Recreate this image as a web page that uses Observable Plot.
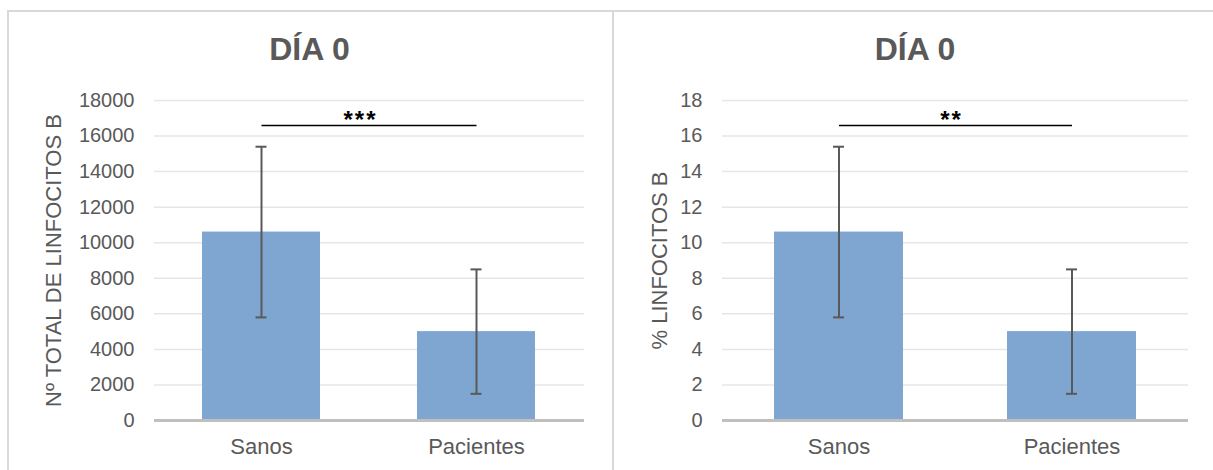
<!DOCTYPE html>
<html>
<head>
<meta charset="utf-8">
<script src="https://cdn.jsdelivr.net/npm/d3@7"></script>
<script src="https://cdn.jsdelivr.net/npm/@observablehq/plot@0.6"></script>
<style>
  html, body { margin: 0; padding: 0; background: #fff; }
  #root { position: relative; width: 1213px; height: 470px; overflow: hidden; font-family: "Liberation Sans", Arial, sans-serif; }
  .panel { position: absolute; box-sizing: border-box; border: 2px solid #d9d9d9; }
  .title { position: absolute; font-weight: bold; font-size: 32px; color: #595959; text-align: center; }
  .chart { position: absolute; top: 0; }
  .chart svg g[aria-label="text"] text { letter-spacing: 2px; }
</style>
</head>
<body>
<div id="root">
  <div class="panel" style="left:7px; top:10px; width:607px; height:600px;"></div>
  <div class="panel" style="left:612px; top:10px; width:700px; height:600px;"></div>
  <div class="title" style="left:7px; width:605px; top:31px;">DÍA 0</div>
  <div class="title" style="left:612px; width:606px; top:31px;">DÍA 0</div>
  <div class="chart" id="left" style="left:0px;"></div>
  <div class="chart" id="right" style="left:606px;"></div>
</div>
<script>
// ---- data ----
const categories = ["Sanos", "Pacientes"];

const totalMeans = [10600, 5000];
const totalLow = [5800, 1500];
const totalHigh = [15400, 8500];
const totalTicks = [0, 2000, 4000, 6000, 8000, 10000, 12000, 14000, 16000, 18000];
const totalSigY = 16600;
const totalSigLabel = "***";

const pctMeans = [10.6, 5.0];
const pctLow = [5.8, 1.5];
const pctHigh = [15.4, 8.5];
const pctTicks = [0, 2, 4, 6, 8, 10, 12, 14, 16, 18];
const pctSigY = 16.6;
const pctSigLabel = "**";

function makeChart(opts) {
  const rows = categories.map((c, i) => ({cat: c, mean: opts.means[i], lo: opts.low[i], hi: opts.high[i]}));
  const sig = [{x1: categories[0], x2: categories[1], y: opts.sigY, label: opts.sigLabel}];
  return Plot.plot({
    width: opts.width, height: 470,
    marginLeft: opts.marginLeft, marginRight: opts.marginRight, marginTop: 100, marginBottom: 50,
    style: {fontFamily: '"Liberation Sans", Arial, sans-serif', fontSize: "20px", color: "#595959", background: "transparent", overflow: "visible"},
    x: {domain: categories, paddingInner: opts.padInner, paddingOuter: opts.padInner / 2},
    y: {domain: [opts.ticks[0], opts.ticks[opts.ticks.length - 1]]},
    marks: [
      Plot.gridY(opts.ticks, {stroke: "#e6e6e6", strokeOpacity: 1, strokeWidth: 1.5}),
      Plot.barY(rows, {x: "cat", y: "mean", fill: "#7fa6d1"}),
      Plot.ruleY([0], {stroke: "#bfbfbf", strokeWidth: 3}),
      Plot.ruleX(rows, {x: "cat", y1: "lo", y2: "hi", stroke: "#595959", strokeWidth: 2}),
      Plot.tickY(rows, {x: "cat", y: "hi", stroke: "#595959", strokeWidth: 2, insetLeft: opts.capInset, insetRight: opts.capInset}),
      Plot.tickY(rows, {x: "cat", y: "lo", stroke: "#595959", strokeWidth: 2, insetLeft: opts.capInset, insetRight: opts.capInset}),
      Plot.link(sig, {x1: "x1", x2: "x2", y1: "y", y2: "y", stroke: "#000", strokeWidth: 1.5}),
      Plot.text(sig, {frameAnchor: "top", y: "y", text: "label", dx: opts.starDx, dy: -14, fill: "#000", fontSize: 24, fontWeight: "bold"}),
      Plot.axisX({label: null, tickSize: 0, tickPadding: 18, fontSize: 22}),
      Plot.axisY(opts.ticks, {label: null, tickSize: 0, tickPadding: 20, fontSize: 20, tickFormat: d => String(d)}),
      Plot.axisY({ticks: [], label: opts.yLabel, labelAnchor: "center", labelArrow: "none", labelOffset: opts.labelOffset, fontSize: 22})
    ]
  });
}

document.getElementById("left").appendChild(makeChart({
  means: totalMeans, low: totalLow, high: totalHigh, ticks: totalTicks,
  sigY: totalSigY, sigLabel: totalSigLabel, yLabel: "Nº TOTAL DE LINFOCITOS B",
  width: 606, marginLeft: 154, marginRight: 22, labelOffset: 109, capInset: 53.5, starDx: -9, padInner: 0.45
}));
document.getElementById("right").appendChild(makeChart({
  means: pctMeans, low: pctLow, high: pctHigh, ticks: pctTicks,
  sigY: pctSigY, sigLabel: pctSigLabel, yLabel: "% LINFOCITOS B",
  width: 607, marginLeft: 116, marginRight: 25, labelOffset: 71, capInset: 59, starDx: -4, padInner: 0.446
}));
</script>
</body>
</html>
